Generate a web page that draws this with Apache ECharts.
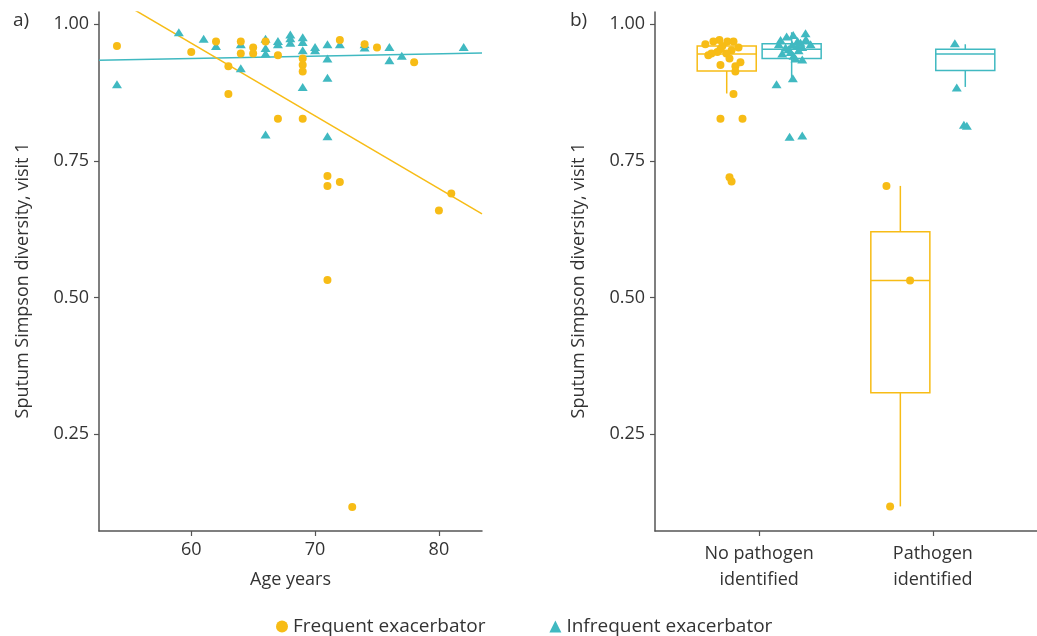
<!DOCTYPE html>
<html>
<head>
<meta charset="utf-8">
<script src="https://cdn.jsdelivr.net/npm/echarts@6.0.0/dist/echarts.min.js"></script>
<style>
  html, body { margin: 0; padding: 0; background: #fff; }
  #chart { width: 1037px; height: 636px; }
</style>
</head>
<body>
<div id="chart"></div>
<script>
// panel a: age vs sputum diversity
const ageFrequent = [54, 60, 62, 63, 63, 64, 64, 65, 65, 66, 67, 67, 69, 69, 69, 69, 71, 71, 71, 72, 72, 74, 75, 78, 81, 80, 73]
const divFrequent = [0.960, 0.949, 0.968, 0.923, 0.872, 0.968, 0.946, 0.957, 0.946, 0.968, 0.943, 0.827, 0.937, 0.925, 0.913, 0.827, 0.722, 0.704, 0.532, 0.711, 0.971, 0.963, 0.957, 0.930, 0.690, 0.659, 0.117]
const ageInfrequent = [54, 59, 61, 62, 64, 64, 66, 66, 66, 66, 67, 67, 68, 68, 68, 69, 69, 69, 69, 70, 70, 71, 71, 71, 71, 72, 74, 74, 76, 76, 77, 82]
const divInfrequent = [0.890, 0.985, 0.973, 0.960, 0.963, 0.919, 0.973, 0.956, 0.946, 0.798, 0.969, 0.963, 0.981, 0.974, 0.966, 0.976, 0.967, 0.952, 0.885, 0.958, 0.952, 0.963, 0.937, 0.902, 0.795, 0.963, 0.963, 0.957, 0.958, 0.934, 0.942, 0.958]

// fitted lines, end points [age, diversity]
const fitFrequent = [[52.55, 1.064], [83.48, 0.653]]
const fitInfrequent = [[52.55, 0.934], [83.48, 0.947]]

// panel b: group position (1 = no pathogen, 2 = pathogen) incl. jitter
const groupLabels = ['No pathogen\nidentified', 'Pathogen\nidentified']
const jitFrequentX = [0.771, 0.736, 0.817, 0.852, 0.690, 0.788, 0.881, 0.841, 0.777, 0.759, 0.725, 0.811, 0.707, 0.829, 0.892, 0.777, 0.863, 0.863, 0.852, 0.777, 0.904, 0.829, 0.841, 1.733, 1.869, 1.754]
const jitFrequentY = [0.971, 0.968, 0.968, 0.968, 0.963, 0.960, 0.957, 0.952, 0.954, 0.949, 0.946, 0.946, 0.943, 0.937, 0.930, 0.925, 0.923, 0.913, 0.872, 0.827, 0.827, 0.720, 0.712, 0.704, 0.531, 0.118]
const jitInfrequentX = [1.267, 1.196, 1.158, 1.269, 1.123, 1.221, 1.238, 1.113, 1.296, 1.190, 1.219, 1.248, 1.152, 1.169, 1.227, 1.181, 1.133, 1.198, 1.209, 1.248, 1.194, 1.100, 1.248, 1.175, 2.127, 2.138, 2.179, 2.196]
const jitInfrequentY = [0.983, 0.980, 0.977, 0.972, 0.971, 0.969, 0.966, 0.963, 0.963, 0.962, 0.960, 0.958, 0.957, 0.954, 0.952, 0.949, 0.946, 0.942, 0.937, 0.935, 0.901, 0.890, 0.796, 0.794, 0.965, 0.884, 0.816, 0.814]

// boxes: [group, lower whisker, q1, median, q3, upper whisker]
const boxFrequent = [[1, 0.873, 0.914, 0.945, 0.960, 0.971], [2, 0.118, 0.326, 0.531, 0.620, 0.704]]
const boxInfrequent = [[1, 0.900, 0.937, 0.954, 0.964, 0.985], [2, 0.885, 0.915, 0.945, 0.954, 0.963]]

const yTicks = [0.25, 0.5, 0.75, 1.0]
const xTicks = [60, 70, 80]

const YELLOW = '#F7BC16'
const TEAL = '#40B9C1'
const FONT = 'Open Sans'
const AXIS = '#555'
const TEXT = '#333'

const zip = (xs, ys) => xs.map((x, i) => [x, ys[i]])

// dodged box drawn with the axis scales
const boxRender = function (offset, half, color) {
  return function (params, api) {
    const x = api.value(0) + offset
    const lo = api.coord([x, api.value(1)])
    const q1 = api.coord([x, api.value(2)])
    const med = api.coord([x, api.value(3)])
    const q3 = api.coord([x, api.value(4)])
    const hi = api.coord([x, api.value(5)])
    const left = api.coord([x - half, api.value(3)])[0]
    const right = api.coord([x + half, api.value(3)])[0]
    const st = { stroke: color, lineWidth: 1.5, fill: null }
    return {
      type: 'group',
      children: [
        { type: 'line', shape: { x1: hi[0], y1: hi[1], x2: q3[0], y2: q3[1] }, style: st },
        { type: 'line', shape: { x1: q1[0], y1: q1[1], x2: lo[0], y2: lo[1] }, style: st },
        { type: 'rect', shape: { x: left, y: q3[1], width: right - left, height: q1[1] - q3[1] }, style: { stroke: color, lineWidth: 1.5, fill: 'rgba(255,255,255,0)' } },
        { type: 'line', shape: { x1: left, y1: med[1], x2: right, y2: med[1] }, style: st }
      ]
    }
  }
}

const yAxisOpt = function (gridIndex) {
  return {
    type: 'value',
    gridIndex: gridIndex,
    min: 0.073,
    max: 1.022,
    name: 'Sputum Simpson diversity, visit 1',
    nameLocation: 'middle',
    nameGap: 67,
    nameTextStyle: { fontFamily: FONT, fontSize: 18, color: TEXT, padding: [0, 18, 0, 0] },
    axisLine: { show: true, lineStyle: { color: AXIS, width: 1.5 } },
    axisTick: { show: true, length: 5, customValues: yTicks, lineStyle: { color: AXIS, width: 1.2 } },
    axisLabel: {
      customValues: yTicks,
      margin: 10,
      fontFamily: FONT,
      fontSize: 18,
      color: TEXT,
      formatter: v => v.toFixed(2)
    },
    splitLine: { show: false }
  }
}

const chart = echarts.init(document.getElementById('chart'), null, { renderer: 'canvas' })

const option = {
  animation: false,
  backgroundColor: '#fff',
  grid: [
    { left: 99, top: 12, width: 383, height: 519 },
    { left: 655, top: 12, width: 382, height: 519 }
  ],
  xAxis: [
    {
      type: 'value',
      gridIndex: 0,
      min: 52.55,
      max: 83.48,
      name: 'Age years',
      nameLocation: 'middle',
      nameGap: 40,
      nameTextStyle: { fontFamily: FONT, fontSize: 18, color: TEXT },
      axisLine: { show: true, lineStyle: { color: AXIS, width: 1.5 } },
      axisTick: { show: true, length: 5, customValues: xTicks, lineStyle: { color: AXIS, width: 1.2 } },
      axisLabel: { customValues: xTicks, margin: 10, fontFamily: FONT, fontSize: 18, color: TEXT },
      splitLine: { show: false }
    },
    {
      type: 'value',
      gridIndex: 1,
      min: 0.4,
      max: 2.6,
      axisLine: { show: true, lineStyle: { color: AXIS, width: 1.5 } },
      axisTick: { show: true, length: 5, customValues: [1, 2], lineStyle: { color: AXIS, width: 1.2 } },
      axisLabel: {
        customValues: [1, 2],
        margin: 10,
        fontFamily: FONT,
        fontSize: 18,
        lineHeight: 26,
        color: TEXT,
        formatter: v => groupLabels[Math.round(v) - 1]
      },
      splitLine: { show: false }
    }
  ],
  yAxis: [yAxisOpt(0), yAxisOpt(1)],
  legend: {
    left: 276,
    top: 617,
    padding: 0,
    itemWidth: 12,
    itemHeight: 12,
    itemGap: 64,
    textStyle: { fontFamily: FONT, fontSize: 19, color: TEXT },
    data: [
      { name: 'Frequent exacerbator', icon: 'circle' },
      { name: 'Infrequent exacerbator', icon: 'triangle' }
    ]
  },
  graphic: [
    { type: 'text', left: 13, top: 11, style: { text: 'a)', fontFamily: FONT, fontSize: 19, fill: TEXT } },
    { type: 'text', left: 570, top: 11, style: { text: 'b)', fontFamily: FONT, fontSize: 19, fill: TEXT } }
  ],
  series: [
    {
      name: 'fit infrequent',
      type: 'line',
      xAxisIndex: 0,
      yAxisIndex: 0,
      data: fitInfrequent,
      showSymbol: false,
      clip: true,
      lineStyle: { color: TEAL, width: 1.5 },
      z: 1
    },
    {
      name: 'fit frequent',
      type: 'line',
      xAxisIndex: 0,
      yAxisIndex: 0,
      data: fitFrequent,
      showSymbol: false,
      clip: true,
      lineStyle: { color: YELLOW, width: 1.5 },
      z: 1
    },
    {
      name: 'Infrequent exacerbator',
      type: 'scatter',
      xAxisIndex: 0,
      yAxisIndex: 0,
      data: zip(ageInfrequent, divInfrequent),
      symbol: 'triangle',
      symbolSize: [10, 8],
      itemStyle: { color: TEAL, opacity: 1 },
      z: 3
    },
    {
      name: 'Frequent exacerbator',
      type: 'scatter',
      xAxisIndex: 0,
      yAxisIndex: 0,
      data: zip(ageFrequent, divFrequent),
      symbol: 'circle',
      symbolSize: 8,
      itemStyle: { color: YELLOW, opacity: 1 },
      z: 4
    },
    {
      name: 'box frequent',
      type: 'custom',
      xAxisIndex: 1,
      yAxisIndex: 1,
      data: boxFrequent,
      encode: { x: 0, y: [1, 2, 3, 4, 5] },
      renderItem: boxRender(-0.187, 0.17, YELLOW),
      z: 2
    },
    {
      name: 'box infrequent',
      type: 'custom',
      xAxisIndex: 1,
      yAxisIndex: 1,
      data: boxInfrequent,
      encode: { x: 0, y: [1, 2, 3, 4, 5] },
      renderItem: boxRender(0.187, 0.17, TEAL),
      z: 2
    },
    {
      name: 'Infrequent exacerbator',
      type: 'scatter',
      xAxisIndex: 1,
      yAxisIndex: 1,
      data: zip(jitInfrequentX, jitInfrequentY),
      symbol: 'triangle',
      symbolSize: [10, 8],
      itemStyle: { color: TEAL, opacity: 1 },
      z: 3
    },
    {
      name: 'Frequent exacerbator',
      type: 'scatter',
      xAxisIndex: 1,
      yAxisIndex: 1,
      data: zip(jitFrequentX, jitFrequentY),
      symbol: 'circle',
      symbolSize: 8,
      itemStyle: { color: YELLOW, opacity: 1 },
      z: 4
    }
  ]
}

chart.setOption(option)
</script>
</body>
</html>
